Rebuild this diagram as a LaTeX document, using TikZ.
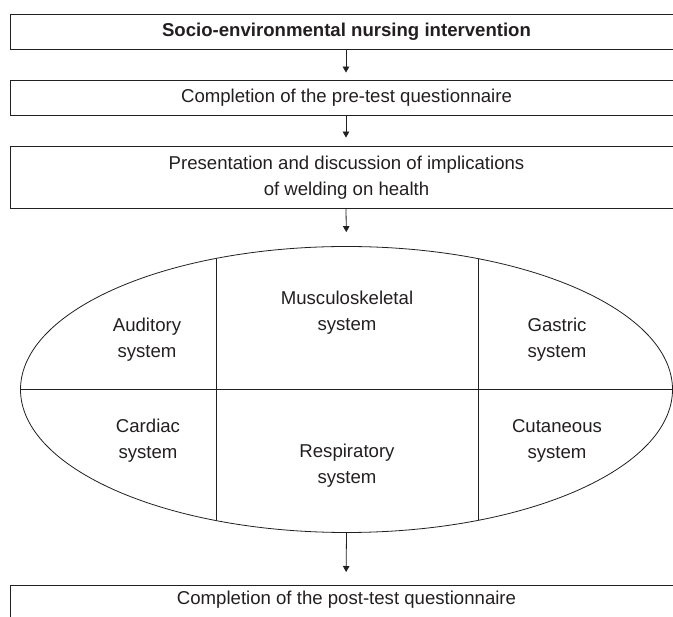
\documentclass[tikz,border=0pt]{standalone}
\usepackage{fontspec}
\setmainfont{Liberation Sans}
\usetikzlibrary{shapes.geometric,arrows.meta}
\definecolor{ink}{RGB}{35,31,32}
\tikzset{
  box/.style={draw=ink, line width=0.8pt, minimum width=672pt, inner sep=0pt},
  lbl/.style={text=ink, font=\fontsize{18.6}{26}\selectfont, align=center, inner sep=0pt},
  arr/.style={draw=ink, line width=0.8pt, -{Triangle[length=6pt,width=6.5pt]}},
}
\begin{document}
\begin{tikzpicture}[x=1pt,y=-1pt]
\useasboundingbox (0,0) rectangle (673,617);
\clip (0,0) rectangle (673,617);
\node[box, minimum height=35pt] (b1) at (346,31.5) {};
\node[lbl, font=\fontsize{18.6}{26}\selectfont\bfseries] (t1) at (346.5,31.5) {Socio-environmental nursing intervention};
\node[box, minimum height=35pt] (b2) at (346,97.5) {};
\node[lbl] (t2) at (346.5,97.5) {Completion of the pre-test questionnaire};
\node[box, minimum height=62pt] (b3) at (346,177) {};
\node[lbl] (t3) at (346.5,178) {Presentation and discussion of implications\\of welding on health};
\node[draw=ink, line width=0.8pt, ellipse, minimum width=652pt, minimum height=286pt, inner sep=0pt] (ell) at (346.5,389.5) {};
\begin{scope}
  \clip (346.5,389.5) ellipse [x radius=326, y radius=143];
  \draw[ink, line width=0.8pt] (216,230) -- (216,550);
  \draw[ink, line width=0.8pt] (478,230) -- (478,550);
\end{scope}
\draw[ink, line width=0.8pt] (ell.west) -- (ell.east);
\node[lbl] (aud) at (147,340) {Auditory\\system};
\node[lbl] (mus) at (347,312.5) {Musculoskeletal\\system};
\node[lbl] (gas) at (557,340) {Gastric\\system};
\node[lbl] (car) at (148,441) {Cardiac\\system};
\node[lbl] (res) at (347,465.5) {Respiratory\\system};
\node[lbl] (cut) at (557,441) {Cutaneous\\system};
\node[box, anchor=north, minimum height=60pt] (b4) at (346,585) {};
\node[lbl] (t4) at (346.5,600) {Completion of the post-test questionnaire};
\draw[arr, shorten >=7pt] (b1.south) -- (b2.north);
\draw[arr, shorten >=8pt] (b2.south) -- (b3.north);
\draw[arr, shorten >=14pt] (b3.south) -- (ell.north);
\draw[arr, shorten >=13pt] (ell.south) -- (b4.north);
\end{tikzpicture}
\end{document}
